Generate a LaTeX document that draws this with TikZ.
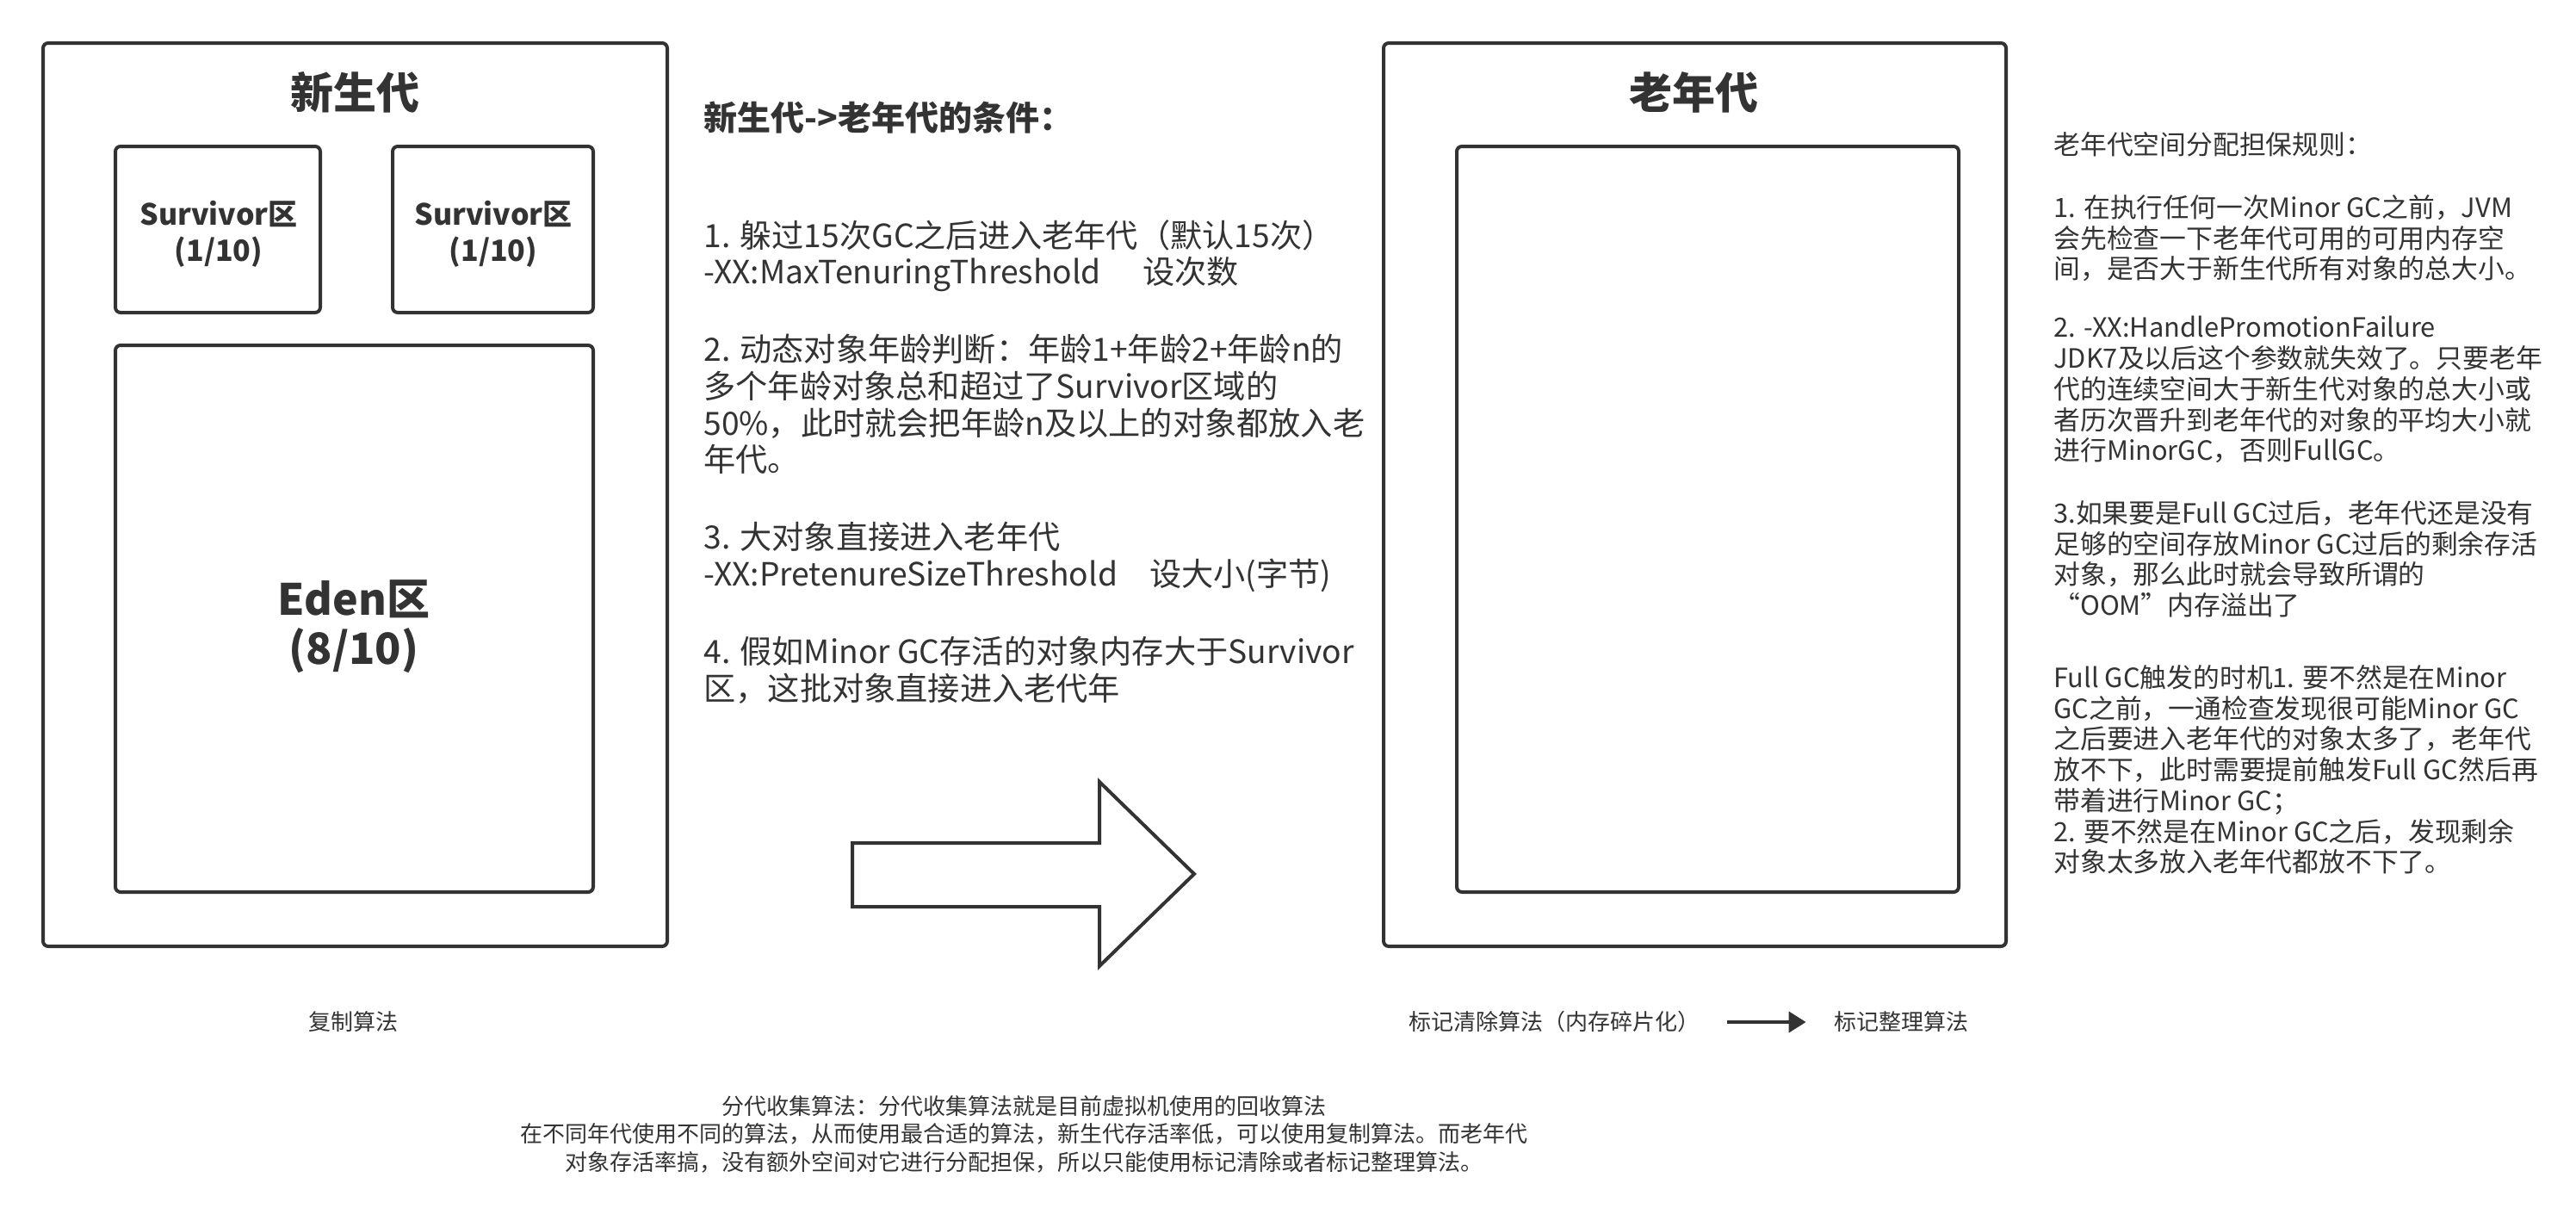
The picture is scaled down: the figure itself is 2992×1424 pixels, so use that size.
\documentclass[tikz,border=0pt]{standalone}
\usepackage{fontspec}
\setmainfont{Noto Sans CJK SC}
\usetikzlibrary{fit,arrows.meta}
\definecolor{ink}{HTML}{333333}
\begin{document}
\begin{tikzpicture}[x=0.5pt,y=-0.5pt,
  box/.style={draw=ink, line width=2pt, rounded corners=3pt, inner sep=0pt},
  titletext/.style={text=ink, inner sep=0pt, font=\fontsize{25pt}{30pt}\selectfont\bfseries},
  survtext/.style={text=ink, inner sep=0pt, align=center, font=\fontsize{17pt}{21pt}\selectfont\bfseries},
  edentext/.style={text=ink, inner sep=0pt, align=center, font=\fontsize{25pt}{28.5pt}\selectfont\bfseries},
  midhead/.style={text=ink, inner sep=0pt, anchor=north west, font=\fontsize{19.5pt}{23pt}\selectfont\bfseries},
  midtext/.style={text=ink, inner sep=0pt, anchor=north west, align=left, font=\fontsize{18.6pt}{21.3pt}\selectfont},
  righttext/.style={text=ink, inner sep=0pt, anchor=north west, align=left, font=\fontsize{15.4pt}{17.85pt}\selectfont},
  smalltext/.style={text=ink, inner sep=0pt, align=center, font=\fontsize{13pt}{16.2pt}\selectfont}
]
\useasboundingbox (0,0) rectangle (2992,1424);
\fill[white] (0,0) rectangle (2992,1424);

% young generation
\node[box, fit={(50,50) (775,1099)}] (young) {};
\node[titletext] (youngtitle) at (412,107) {新生代};
\node[box, fit={(134,170) (372,363)}] (surv1) {};
\node[box, fit={(456,170) (689,363)}] (surv2) {};
\node[box, fit={(134,401) (689,1036)}] (eden) {};
\node[survtext] (surv1text) at (254,272) {Survivor区\\(1/10)};
\node[survtext] (surv2text) at (573,272) {Survivor区\\(1/10)};
\node[edentext] (edentextnode) at (411,728) {Eden区\\(8/10)};

% conditions text
\node[midhead] (condhead) at (817,117) {新生代->老年代的条件：};
\node[midtext] (cond1) at (817,255) {1. 躲过15次GC之后进入老年代（默认15次）\\-XX:MaxTenuringThreshold\hspace{1.3em}设次数};
\node[midtext] (cond2) at (817,388) {2. 动态对象年龄判断：年龄1+年龄2+年龄n的\\多个年龄对象总和超过了Survivor区域的\\50\%，此时就会把年龄n及以上的对象都放入老\\年代。};
\node[midtext] (cond3) at (817,606) {3. 大对象直接进入老年代\\-XX:PretenureSizeThreshold\hspace{1em}设大小(字节)};
\node[midtext] (cond4) at (817,739) {4. 假如Minor GC存活的对象内存大于Survivor\\区，这批对象直接进入老代年};

% big arrow
\draw[draw=ink, fill=white, line width=2pt, line join=miter]
  (990,979) -- (1277,979) -- (1277,908) -- (1387,1015) -- (1277,1122) -- (1277,1053) -- (990,1053) -- cycle;

% old generation
\node[box, fit={(1607,50) (2330,1099)}] (old) {};
\node[titletext] (oldtitle) at (1967,107) {老年代};
\node[box, fit={(1692,170) (2275,1036)}] (oldinner) {};

% right text
\node[righttext] (rulehead) at (2385,153) {老年代空间分配担保规则：};
\node[righttext] (rule1) at (2385,226) {1. 在执行任何一次Minor GC之前，JVM\\会先检查一下老年代可用的可用内存空\\间，是否大于新生代所有对象的总大小。};
\node[righttext] (rule2) at (2385,367) {2. -XX:HandlePromotionFailure\\JDK7及以后这个参数就失效了。只要老年\\代的连续空间大于新生代对象的总大小或\\者历次晋升到老年代的对象的平均大小就\\进行MinorGC，否则FullGC。};
\node[righttext] (rule3) at (2385,581) {3.如果要是Full GC过后，老年代还是没有\\足够的空间存放Minor GC过后的剩余存活\\对象，那么此时就会导致所谓的\\“OOM”内存溢出了};
\node[righttext] (rule4) at (2385,772) {Full GC触发的时机1. 要不然是在Minor\\GC之前，一通检查发现很可能Minor GC\\之后要进入老年代的对象太多了，老年代\\放不下，此时需要提前触发Full GC然后再\\带着进行Minor GC；\\2. 要不然是在Minor GC之后，发现剩余\\对象太多放入老年代都放不下了。};

% bottom labels
\node[smalltext] (copyalg) at (410,1187) {复制算法};
\node[smalltext] (marksweep) at (1805,1187) {标记清除算法（内存碎片化）};
\node[smalltext] (markcompact) at (2208,1187) {标记整理算法};
\draw[ink, line width=2pt, -{Triangle[length=10pt,width=12pt]}, shorten <=16pt, shorten >=16pt] (marksweep.east) -- (markcompact.west);

\node[smalltext, anchor=north] (summary) at (1189,1272) {分代收集算法：分代收集算法就是目前虚拟机使用的回收算法\\在不同年代使用不同的算法，从而使用最合适的算法，新生代存活率低，可以使用复制算法。而老年代\\对象存活率搞，没有额外空间对它进行分配担保，所以只能使用标记清除或者标记整理算法。};
\end{tikzpicture}
\end{document}
